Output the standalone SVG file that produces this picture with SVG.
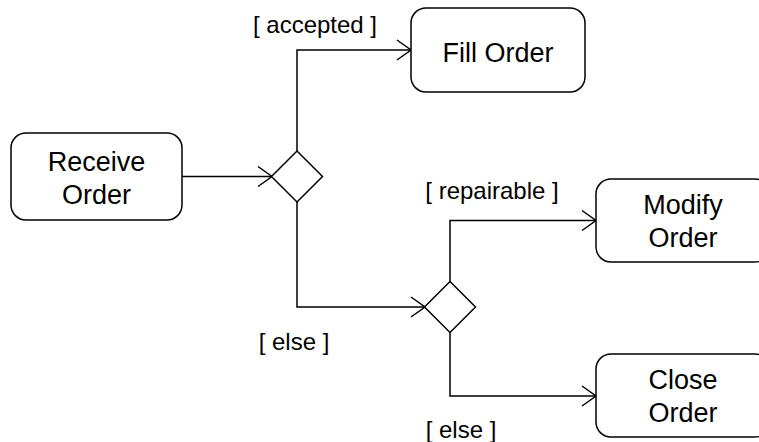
<svg xmlns="http://www.w3.org/2000/svg" width="759" height="442" viewBox="0 0 759 442">
<style>
.node rect{fill:#fff;stroke:#000;stroke-width:1.5}
.node polygon{fill:#fff;stroke:#000;stroke-width:1.5}
.node text{font-family:"Liberation Sans",Arial,sans-serif;font-size:27px;text-anchor:middle;fill:#000}
.edges path{fill:none;stroke:#000;stroke-width:1.5}
.lbl{font-family:"Liberation Sans",Arial,sans-serif;font-size:24px;text-anchor:middle;fill:#000}
</style>
<defs>
<marker id="arr" markerUnits="userSpaceOnUse" markerWidth="20" markerHeight="24" viewBox="-16 -12 20 24" refX="0" refY="0" orient="auto">
<path d="M-14,-10 L0,0 L-14,10" fill="none" stroke="#000" stroke-width="1.5"/>
</marker>
</defs>
<rect width="759" height="442" fill="#fff"/>
<g class="edges" id="connectors">
<path d="M182,176.5 H272" marker-end="url(#arr)"/>
<path d="M297,151 V50 H411" marker-end="url(#arr)"/>
<path d="M297,202 V307 H425" marker-end="url(#arr)"/>
<path d="M450,281.5 V220.5 H596" marker-end="url(#arr)"/>
<path d="M450,332.5 V396 H596" marker-end="url(#arr)"/>
</g>
<g id="receive" class="node">
<rect x="11" y="133" width="171" height="87" rx="15"/>
<text x="96.5" y="171">Receive</text>
<text x="96.5" y="204">Order</text>
</g>
<g id="decision1" class="node">
<polygon points="297,151 322.5,176.5 297,202 271.5,176.5"/>
</g>
<g id="fill" class="node">
<rect x="411" y="8" width="174" height="84" rx="15"/>
<text x="498" y="62">Fill Order</text>
</g>
<g id="decision2" class="node">
<polygon points="450,281.5 475.5,307 450,332.5 424.5,307"/>
</g>
<g id="modify" class="node">
<rect x="596" y="179" width="174" height="83" rx="15"/>
<text x="683" y="214">Modify</text>
<text x="683" y="247">Order</text>
</g>
<g id="close" class="node">
<rect x="596" y="354" width="174" height="83" rx="15"/>
<text x="683" y="389">Close</text>
<text x="683" y="422">Order</text>
</g>
<g id="labels">
<text class="lbl" x="315" y="33">[ accepted ]</text>
<text class="lbl" x="492" y="199">[ repairable ]</text>
<text class="lbl" x="294" y="350">[ else ]</text>
<text class="lbl" x="461" y="438">[ else ]</text>
</g>
</svg>
